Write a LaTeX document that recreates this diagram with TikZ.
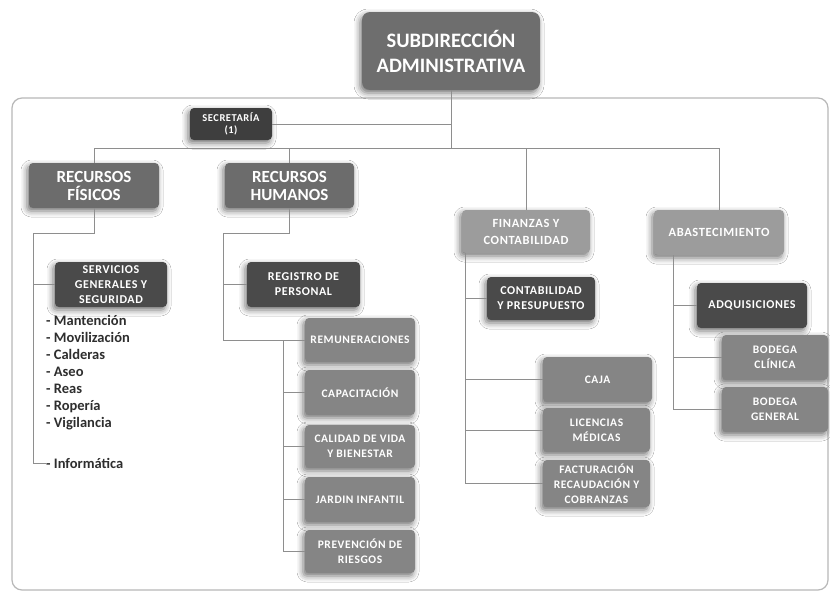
\documentclass[tikz,border=0pt]{standalone}
\usepackage{fontspec}
\setmainfont{Carlito}
\newfontfamily\widebold[LetterSpace=5]{Carlito}
\usetikzlibrary{shadows.blur}

\definecolor{topgray}{HTML}{6E6E6E}
\definecolor{darkgray}{HTML}{4A4A4A}
\definecolor{secgray}{HTML}{3E3E3E}
\definecolor{midgray}{HTML}{6C6C6C}
\definecolor{unitgray}{HTML}{858585}
\definecolor{lightgray}{HTML}{9C9C9C}
\definecolor{linegray}{HTML}{8E8E8E}
\definecolor{framegray}{HTML}{B8B8B8}
\definecolor{listtext}{HTML}{2E2E2E}

\tikzset{
  box/.style={rectangle, rounded corners=4pt, text=white, align=center,
    font=\bfseries, inner sep=2pt,
    blur shadow={shadow xshift=-2pt, shadow yshift=-3pt,
      shadow blur radius=6pt, shadow opacity=55}},
  topbox/.style={box, fill=topgray, rounded corners=8pt,
    minimum width=178pt, minimum height=78pt,
    font=\bfseries\fontsize{20.5}{25}\selectfont},
  secbox/.style={box, fill=secgray, minimum width=82pt, minimum height=32pt,
    font=\widebold\bfseries\fontsize{10.5}{11.5}\selectfont},
  areabox/.style={box, fill=midgray, minimum width=130pt, minimum height=45pt,
    font=\bfseries\fontsize{17}{18}\selectfont},
  finbox/.style={box, fill=lightgray, minimum width=128pt, minimum height=43pt,
    font=\widebold\bfseries\fontsize{12.5}{17}\selectfont},
  headbox/.style={box, fill=darkgray, minimum height=45pt,
    font=\widebold\bfseries\fontsize{12}{15}\selectfont},
  unitbox/.style={box, fill=unitgray, minimum width=110pt, minimum height=44pt,
    font=\widebold\bfseries\fontsize{11.5}{15}\selectfont},
  link/.style={draw=linegray, line width=0.7pt},
  listitem/.style={anchor=north west, align=left, text=listtext, inner sep=0pt,
    font=\bfseries\fontsize{14.5}{17}\selectfont}
}

\begin{document}
\begin{tikzpicture}[x=1pt, y=-1pt]
  \useasboundingbox (0,0) rectangle (830,592);
  \fill[white] (0,0) rectangle (830,592);

  % frame around the departments
  \draw[framegray, line width=1.2pt, rounded corners=10pt] (12,98) rectangle (828,590);

  % head of the area and secretary
  \node[topbox] (top) at (451,51) {SUBDIRECCIÓN\\ADMINISTRATIVA};
  \node[secbox] (sec) at (231,124) {SECRETARÍA\\(1)};

  % departments
  \node[areabox] (rf) at (94,185.5) {RECURSOS\\FÍSICOS};
  \node[areabox, minimum width=129pt] (rh) at (289.5,185.5) {RECURSOS\\HUMANOS};
  \node[finbox] (fin) at (526,231.5) {FINANZAS Y\\CONTABILIDAD};
  \node[finbox, minimum width=130pt, minimum height=45pt] (aba) at (719,232.5) {ABASTECIMIENTO};

  % sections
  \node[headbox, minimum width=112pt] (serv) at (111,284.5) {SERVICIOS\\GENERALES Y\\SEGURIDAD};
  \node[headbox, minimum width=113pt] (reg) at (303.5,284.5) {REGISTRO DE\\PERSONAL};
  \node[headbox, minimum width=108pt, minimum height=43pt] (cont) at (541,298.5) {CONTABILIDAD\\Y PRESUPUESTO};
  \node[headbox, minimum width=110pt] (adq) at (752,305.5) {ADQUISICIONES};

  % human resources units
  \node[unitbox] (rem) at (360,340) {REMUNERACIONES};
  \node[unitbox, minimum height=45pt] (cap) at (360,392.5) {CAPACITACIÓN};
  \node[unitbox, minimum height=43pt] (cal) at (360,446.5) {CALIDAD DE VIDA\\Y BIENESTAR};
  \node[unitbox, minimum height=45pt] (jar) at (360,499.5) {JARDIN INFANTIL};
  \node[unitbox, minimum height=43pt] (pre) at (360,551.5) {PREVENCIÓN DE\\RIESGOS};

  % finance units
  \node[unitbox, minimum width=109pt, minimum height=45pt] (caja) at (597.5,379.5) {CAJA};
  \node[unitbox, minimum width=107pt] (lic) at (596.5,430) {LICENCIAS\\MÉDICAS};
  \node[unitbox, minimum width=107pt, minimum height=47pt] (fac) at (596.5,483.5) {FACTURACIÓN\\RECAUDACIÓN Y\\COBRANZAS};

  % supply units
  \node[unitbox, minimum width=106pt, minimum height=45pt] (bcl) at (775,357.5) {BODEGA\\CLÍNICA};
  \node[unitbox, minimum width=106pt, minimum height=45pt] (bge) at (775,409.5) {BODEGA\\GENERAL};

  % physical resources task list
  \node[listitem] (tasks) at (46,315) {- Mantención\\- Movilización\\- Calderas\\- Aseo\\- Reas\\- Ropería\\- Vigilancia};
  \node[listitem, anchor=west] (inf) at (46,463) {- Informática};

  % main trunk and bus
  \coordinate (bus) at (0,148);
  \draw[link] (top.south) -- (top.south |- bus);
  \draw[link] (sec.east) -- (sec.east -| top.south);
  \draw[link] (rf.north |- bus) -- (aba.north |- bus);
  \draw[link] (rf.north |- bus) -- (rf.north);
  \draw[link] (rh.north |- bus) -- (rh.north);
  \draw[link] (fin.north |- bus) -- (fin.north);
  \draw[link] (aba.north |- bus) -- (aba.north);

  % physical resources branch
  \coordinate (rfk) at (33,233);
  \draw[link] (rf.south) |- (rfk) -- (rfk |- inf.west) -- (inf.west);
  \draw[link] (rfk |- serv.west) -- (serv.west);

  % human resources branch
  \coordinate (rhk) at (223,233);
  \coordinate (rhs) at (283,340);
  \draw[link] (rh.south) |- (rhk) -- (rhk |- rem.west) -- (rem.west);
  \draw[link] (rhk |- reg.west) -- (reg.west);
  \draw[link] (rhs) -- (rhs |- pre.west) -- (pre.west);
  \foreach \n in {cap, cal, jar} \draw[link] (rhs |- \n.west) -- (\n.west);

  % finance branch
  \coordinate (fink) at (465,253);
  \draw[link] (fink) -- (fink |- fac.west) -- (fac.west);
  \foreach \n in {cont, caja, lic} \draw[link] (fink |- \n.west) -- (\n.west);

  % supply branch
  \coordinate (abk) at (673,255);
  \draw[link] (abk) -- (abk |- bge.west) -- (bge.west);
  \foreach \n in {adq, bcl} \draw[link] (abk |- \n.west) -- (\n.west);
\end{tikzpicture}
\end{document}
